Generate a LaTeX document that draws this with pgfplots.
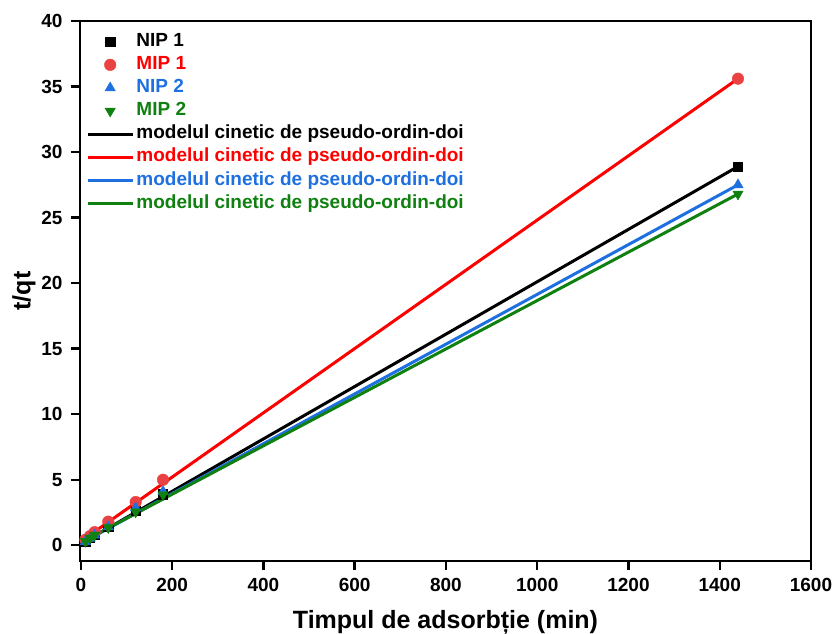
\documentclass[border=0pt]{standalone}
\usepackage{fontspec}
\setmainfont{Liberation Sans}
\usepackage{pgfplots}
\pgfplotsset{compat=1.18}

\definecolor{mred}{RGB}{234,66,66}
\definecolor{lred}{RGB}{255,0,0}
\definecolor{mblue}{RGB}{30,112,225}
\definecolor{mgreen}{RGB}{16,128,16}

\begin{document}
\begin{tikzpicture}
% page frame around the 731pt x 540pt plot area
\useasboundingbox (-80pt,-72pt) rectangle (756pt,561pt);
\begin{axis}[
  at={(0pt,0pt)}, anchor=south west,
  scale only axis, width=731pt, height=540pt,
  xmin=-2, xmax=1600, ymin=-1.2, ymax=40,
  xtick={0,200,...,1600}, ytick={0,5,...,40},
  axis line style={line width=2.4pt},
  tick align=outside, tick pos=left,
  major tick length=9pt,
  xtick style={line width=2.4pt, draw=black},
  ytick style={line width=2.4pt, draw=black},
  /pgf/number format/assume math mode=true,
  /pgf/number format/set thousands separator={},
  tick label style={font=\bfseries\fontsize{19}{19}\selectfont},
  xticklabel style={yshift=-5pt},
  yticklabel style={xshift=-5pt},
  xlabel={Timpul de adsorbție (min)},
  ylabel={t/qt},
  label style={font=\bfseries\fontsize{25}{25}\selectfont},
  xlabel style={at={(axis description cs:0.5,0)}, anchor=base, yshift=-67pt},
  ylabel style={at={(axis description cs:-0.0766,0.5)}, anchor=center},
  legend cell align=left,
  legend style={at={(axis description cs:0,1)}, anchor=north west,
    xshift=6pt, yshift=-9pt, draw=none, fill=none, inner sep=0pt,
    font=\bfseries\fontsize{19}{19}\selectfont, row sep=0pt,
    nodes={text height=14pt, text depth=4.5pt, inner sep=2.3pt}},
  legend image code/.code={\draw[mark repeat=2, mark phase=2, #1]
    plot coordinates {(0pt,0pt) (22.5pt,0pt) (45pt,0pt)};},
  clip=false,
]
% measured t/qt values
\addplot[only marks, mark=square*, mark size=4.6pt, black]
  coordinates {(10,0.30) (20,0.55) (30,0.80) (60,1.45) (120,2.65) (180,3.90) (1440,28.9)};
\addlegendentry{NIP 1}
\addplot[only marks, mark=*, mark size=5.8pt, mred]
  coordinates {(10,0.42) (20,0.70) (30,1.00) (60,1.80) (120,3.30) (180,5.00) (1440,35.6)};
\addlegendentry{\textcolor{lred}{MIP 1}}
\addplot[only marks, mark=triangle*, mark size=6pt, mblue]
  coordinates {(10,0.28) (20,0.52) (30,0.78) (60,1.40) (120,2.85) (180,4.10) (1440,27.5)};
\addlegendentry{\textcolor{mblue}{NIP 2}}
\addplot[only marks, mark=triangle*, mark options={rotate=180}, mark size=6pt, mgreen]
  coordinates {(10,0.30) (20,0.55) (30,0.78) (60,1.35) (120,2.55) (180,3.85) (1440,26.8)};
\addlegendentry{\textcolor{mgreen}{MIP 2}}
% pseudo-second-order fits
\addplot[no markers, line width=3pt, black] coordinates {(0,0.12) (1440,28.9)};
\addlegendentry{modelul cinetic de pseudo-ordin-doi}
\addplot[no markers, line width=3pt, lred] coordinates {(0,0.30) (1440,35.6)};
\addlegendentry{\textcolor{lred}{modelul cinetic de pseudo-ordin-doi}}
\addplot[no markers, line width=3pt, mblue] coordinates {(0,0.15) (1440,27.5)};
\addlegendentry{\textcolor{mblue}{modelul cinetic de pseudo-ordin-doi}}
\addplot[no markers, line width=3pt, mgreen] coordinates {(0,0.20) (1440,26.8)};
\addlegendentry{\textcolor{mgreen}{modelul cinetic de pseudo-ordin-doi}}
\end{axis}
% outward tick marks along the bottom and left frame (frame is 731pt x 540pt at the origin)
\foreach \v in {0,200,...,1600}
  \draw[line width=2.4pt, black] ({(\v+2)/1602*731pt},0pt) -- ++(0pt,-9pt);
\foreach \v in {0,5,...,40}
  \draw[line width=2.4pt, black] (0pt,{(\v+1.2)/41.2*540pt}) -- ++(-9pt,0pt);
\end{tikzpicture}
\end{document}
